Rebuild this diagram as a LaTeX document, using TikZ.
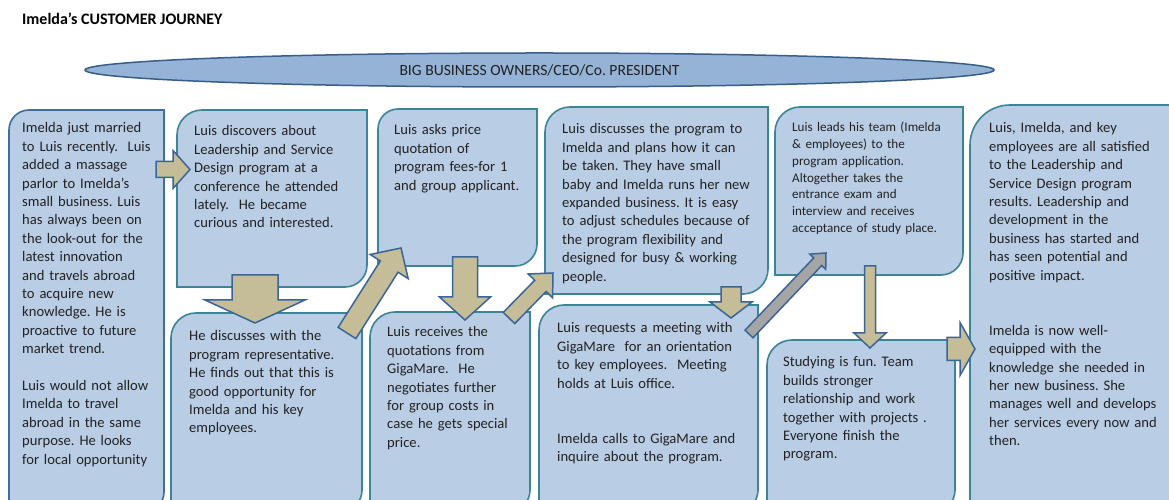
\documentclass[tikz,border=0pt]{standalone}
\usepackage{fontspec}
\setmainfont{Carlito}
\usetikzlibrary{calc,shapes.geometric}
\frenchspacing
\definecolor{boxfill}{HTML}{B9CDE5}
\definecolor{tealline}{HTML}{3B8597}
\definecolor{blueline}{HTML}{3E6D9E}
\definecolor{ellfill}{HTML}{95B3D7}
\definecolor{ellline}{HTML}{385D8A}
\definecolor{tan}{HTML}{C4BD97}
\definecolor{arrline}{HTML}{3A6596}
\definecolor{greyarr}{HTML}{A5A5A5}
\definecolor{txtcol}{HTML}{222222}
\tikzset{
  jboxstyle/.style={fill=boxfill, line width=1.6pt},
  txt/.style={anchor=base west, inner sep=0pt, text width=260pt, align=left, text=txtcol,
              font=\fontsize{14.6}{18.4}\selectfont},
  smalltxt/.style={txt, font=\fontsize{13.1}{16.7}\selectfont},
  tanarrow/.style={fill=tan, draw=arrline, line width=1.5pt},
  greyarrow/.style={fill=greyarr, draw=arrline, line width=1.5pt},
}
% box: #1 border colour, #2 x1, #3 ytop, #4 x2, #5 ybottom, #6 top-left radius, #7 bottom-right radius
\newcommand\jbox[7]{%
  \draw[jboxstyle, draw=#1] (#2,#5) -- (#2,{#3-#6}) arc[start angle=180,end angle=90,radius=#6]
    -- (#4,#3) -- (#4,{#5+#7}) arc[start angle=0,end angle=-90,radius=#7] -- cycle;}
% block arrow: #1 style, #2 tail, #3 tip, #4 shaft width, #5 head width, #6 head length
\newcommand\blockarrow[6]{%
  \path let \p1=($(#3)-(#2)$) in (#2) \pgfextra{%
    \pgfmathsetmacro\baang{atan2(\y1,\x1)}%
    \pgfmathsetmacro\balen{veclen(\x1,\y1)}%
    \global\let\baAng\baang \global\let\baLen\balen};
  \draw[#1, shift={(#2)}, rotate=\baAng, x=1pt, y=1pt]
    (0,{-#4/2}) -- ({\baLen-#6},{-#4/2}) -- ({\baLen-#6},{-#5/2}) -- (\baLen,0)
    -- ({\baLen-#6},{#5/2}) -- ({\baLen-#6},{#4/2}) -- (0,{#4/2}) -- cycle;}
\begin{document}
\begin{tikzpicture}[x=1pt,y=1pt]
\useasboundingbox (0,0) rectangle (1169,500);
\clip (0,0) rectangle (1169,500);
\fill[white] (0,0) rectangle (1169,500);

\node[anchor=base west, inner sep=0pt, text=black, font=\bfseries\fontsize{16}{19}\selectfont] (title) at (22,475.5) {Imelda’s CUSTOMER JOURNEY};

\node[ellipse, draw=ellline, fill=ellfill, line width=1.5pt, minimum width=909pt, minimum height=34pt, inner sep=0pt,
      text=txtcol, font=\fontsize{15.6}{18}\selectfont] (segment) at (539.5,430) {BIG BUSINESS OWNERS/CEO/Co. PRESIDENT};

% boxes
\jbox{blueline}{9}{390}{164}{-12}{20}{20}
\jbox{tealline}{177}{390}{367}{213}{25}{22}
\jbox{tealline}{171}{187}{362}{-12}{25}{22}
\jbox{tealline}{378}{391}{537}{234}{20}{22}
\jbox{tealline}{370}{188}{530}{-12}{25}{22}
\jbox{tealline}{545}{393}{768}{206}{25}{25}
\jbox{tealline}{539}{195}{758}{-12}{25}{22}
\jbox{tealline}{775}{393}{963}{225}{25}{22}
\jbox{tealline}{767}{160}{955}{-12}{25}{22}
\jbox{tealline}{970}{395}{1190}{-12}{40}{22}

% texts
\node[txt] (t1) at (22,367) {Imelda just married\\to Luis recently.\ \ Luis\\added a massage\\parlor to Imelda’s\\small business. Luis\\has always been on\\the look-out for the\\latest innovation\\and travels abroad\\to acquire new\\knowledge. He is\\proactive to future\\market trend.\\[18.4pt]Luis would not allow\\Imelda to travel\\abroad in the same\\purpose. He looks\\for local opportunity};
\node[txt] (t2) at (194,364) {Luis discovers about\\Leadership and Service\\Design program at a\\conference he attended\\lately.\ \ He became\\curious and interested.};
\node[txt] (t3) at (189,159) {He discusses with the\\program representative.\\He finds out that this is\\good opportunity for\\Imelda and his key\\employees.};
\node[txt] (t4) at (394,365) {Luis asks price\\quotation of\\program fees-for 1\\and group applicant.};
\node[txt] (t5) at (387,163) {Luis receives the\\quotations from\\GigaMare.\ \ He\\negotiates further\\for group costs in\\case he gets special\\price.};
\node[txt] (t6) at (562,366) {Luis discusses the program to\\Imelda and plans how it can\\be taken. They have small\\baby and Imelda runs her new\\expanded business. It is easy\\to adjust schedules because of\\the program flexibility and\\designed for busy \& working\\people.};
\node[txt] (t7) at (557,167) {Luis requests a meeting with\\GigaMare\ \ for an orientation\\to key employees.\ \ Meeting\\holds at Luis office.\\[36.8pt]Imelda calls to GigaMare and\\inquire about the program.};
\node[smalltxt] (t8) at (792,368) {Luis leads his team (Imelda\\\& employees) to the\\program application.\\Altogether takes the\\entrance exam and\\interview and receives\\acceptance of study place.};
\node[txt] (t9) at (783,133) {Studying is fun. Team\\builds stronger\\relationship and work\\together with projects .\\Everyone finish the\\program.};
\node[txt] (t10) at (989,367) {Luis, Imelda, and key\\employees are all satisfied\\to the Leadership and\\Service Design program\\results. Leadership and\\development in the\\business has started and\\has seen potential and\\positive impact.\\[36.8pt]Imelda is now well-\\equipped with the\\knowledge she needed in\\her new business. She\\manages well and develops\\her services every now and\\then.};

% connector end points
\coordinate (a1s) at (156,330.5); \coordinate (a1e) at (190,330.5);
\coordinate (a2s) at (255,225);   \coordinate (a2e) at (255,177);
\coordinate (a3s) at (347,167);   \coordinate (a3e) at (401,252);
\coordinate (a4s) at (465,243);   \coordinate (a4e) at (465,180);
\coordinate (a5s) at (509,182);   \coordinate (a5e) at (553,227);
\coordinate (a6s) at (731,213);   \coordinate (a6e) at (731,182);
\coordinate (a7s) at (749,166);   \coordinate (a7e) at (826,247);
\coordinate (a8s) at (870,234);   \coordinate (a8e) at (870,152);
\coordinate (a9s) at (947,151);   \coordinate (a9e) at (975,151);

\blockarrow{tanarrow}{a1s}{a1e}{16}{38}{17}
\blockarrow{tanarrow}{a2s}{a2e}{46}{100}{23}
\blockarrow{tanarrow}{a3s}{a3e}{21}{45}{22}
\blockarrow{tanarrow}{a4s}{a4e}{25}{51}{23}
\blockarrow{tanarrow}{a5s}{a5e}{16}{34}{18}
\blockarrow{tanarrow}{a6s}{a6e}{20}{42}{16}
\blockarrow{greyarrow}{a7s}{a7e}{11}{22}{12}
\blockarrow{tanarrow}{a8s}{a8e}{11}{32}{15}
\blockarrow{tanarrow}{a9s}{a9e}{23}{53}{15}
\end{tikzpicture}
\end{document}
